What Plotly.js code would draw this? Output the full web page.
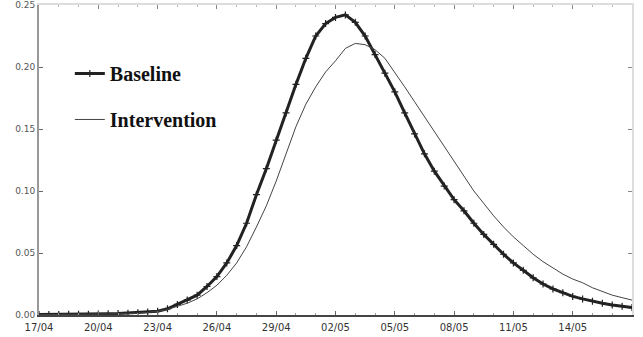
<!DOCTYPE html>
<html>
<head>
<meta charset="utf-8">
<script src="https://cdn.plot.ly/plotly-3.0.1.min.js"></script>
<style>html,body{margin:0;padding:0;background:#fff;}#chart{width:643px;height:337px;}</style>
</head>
<body>
<div id="chart"></div>
<script>
// Sampling: every half day starting 17/04/2009
var startDate = '2009-04-17';
var stepHours = 12;

var baselineName = 'Baseline';
var interventionName = 'Intervention';

var baseline = [
  0.0005, 0.0005, 0.0005, 0.0006, 0.0007, 0.0007, 0.0008, 0.0010, 0.0012, 0.0015,
  0.0018, 0.0024, 0.0030, 0.0050, 0.0085, 0.0120, 0.0160, 0.0230, 0.0310, 0.0420,
  0.0560, 0.0740, 0.0970, 0.1180, 0.1410, 0.1630, 0.1860, 0.2070, 0.2250, 0.2350,
  0.2400, 0.2420, 0.2360, 0.2250, 0.2100, 0.1950, 0.1800, 0.1630, 0.1460, 0.1300,
  0.1160, 0.1040, 0.0930, 0.0840, 0.0740, 0.0650, 0.0570, 0.0490, 0.0420, 0.0360,
  0.0300, 0.0250, 0.0210, 0.0180, 0.0150, 0.0130, 0.0110, 0.0095, 0.0080, 0.0070,
  0.0060
];

var intervention = [
  0.0003, 0.0003, 0.0004, 0.0004, 0.0005, 0.0005, 0.0006, 0.0007, 0.0009, 0.0011,
  0.0014, 0.0020, 0.0030, 0.0045, 0.0070, 0.0095, 0.0130, 0.0180, 0.0240, 0.0320,
  0.0420, 0.0550, 0.0710, 0.0880, 0.1080, 0.1300, 0.1520, 0.1700, 0.1840, 0.1960,
  0.2050, 0.2150, 0.2190, 0.2180, 0.2140, 0.2070, 0.1960, 0.1840, 0.1720, 0.1600,
  0.1480, 0.1360, 0.1240, 0.1120, 0.1000, 0.0900, 0.0800, 0.0710, 0.0630, 0.0560,
  0.0490, 0.0430, 0.0380, 0.0330, 0.0290, 0.0260, 0.0220, 0.0190, 0.0160, 0.0140,
  0.0120
];

var yTicks = [0, 0.05, 0.10, 0.15, 0.20, 0.25];
var yTickLabels = ['0.00', '0.05', '0.10', '0.15', '0.20', '0.25'];

var xRange = ['2009-04-17 00:00', '2009-05-17 00:00'];

var times = [];
var t0 = new Date(startDate + 'T00:00:00Z').getTime();
for (var i = 0; i < baseline.length; i++) {
  var d = new Date(t0 + i * stepHours * 3600000);
  times.push(d.toISOString().slice(0, 16).replace('T', ' '));
}

var traces = [
  {
    x: times, y: baseline, name: baselineName, type: 'scatter', mode: 'lines+markers',
    legendgroup: 'a',
    line: {color: '#222', width: 3},
    marker: {symbol: 'cross-thin', size: 5, color: '#222', line: {color: '#222', width: 1.2}}
  },
  {
    x: times, y: intervention, name: interventionName, type: 'scatter', mode: 'lines',
    legendgroup: 'b',
    line: {color: '#444', width: 1}
  },
  // invisible trace for mirrored top/right axes
  {x: xRange, y: [0, 0], xaxis: 'x2', yaxis: 'y2', mode: 'lines', showlegend: false,
   line: {width: 0}, hoverinfo: 'skip'}
];

var layout = {
  width: 643, height: 337,
  margin: {l: 39, r: 11, t: 5, b: 22},
  paper_bgcolor: '#fff', plot_bgcolor: '#fff',
  font: {family: 'DejaVu Sans, sans-serif', size: 9, color: '#444'},
  showlegend: true,
  legend: {
    x: 0.052, y: 0.842, xanchor: 'left', yanchor: 'top',
    bgcolor: 'rgba(0,0,0,0)',
    font: {family: 'Liberation Serif, Times New Roman, serif', size: 20, color: '#111', weight: 'bold'},
    tracegroupgap: 17,
    itemwidth: 30
  },
  xaxis: {
    type: 'date', range: xRange,
    tick0: '2009-04-17', dtick: 3 * 86400000,
    tickformat: '%d/%m',
    ticks: 'inside', ticklen: 4, tickcolor: '#666', tickwidth: 1,
    minor: {dtick: 86400000, ticks: 'inside', ticklen: 2, tickcolor: '#999'},
    showline: true, linecolor: '#444', linewidth: 2,
    showgrid: false, zeroline: false,
    tickfont: {size: 10, color: '#333', family: 'DejaVu Sans, sans-serif'},
    ticklabelstandoff: 2
  },
  yaxis: {
    range: [0, 0.25],
    tickvals: yTicks, ticktext: yTickLabels,
    ticks: 'inside', ticklen: 4, tickcolor: '#666',
    showline: true, linecolor: '#999', linewidth: 2,
    showgrid: false, zeroline: false,
    tickfont: {size: 9, color: '#555', family: 'DejaVu Sans, sans-serif'}
  },
  xaxis2: {
    type: 'date', range: xRange, overlaying: 'x', side: 'top',
    tick0: '2009-04-17', dtick: 3 * 86400000,
    ticks: 'inside', ticklen: 4, tickcolor: '#888',
    minor: {dtick: 86400000, ticks: 'inside', ticklen: 2, tickcolor: '#bbb'},
    showticklabels: false,
    showline: true, linecolor: '#ddd', linewidth: 2,
    showgrid: false, zeroline: false
  },
  yaxis2: {
    range: [0, 0.25], overlaying: 'y', side: 'right',
    tickvals: yTicks,
    ticks: 'inside', ticklen: 4, tickcolor: '#888',
    showticklabels: false,
    showline: true, linecolor: '#ddd', linewidth: 2,
    showgrid: false, zeroline: false
  }
};

Plotly.newPlot('chart', traces, layout, {staticPlot: true, displayModeBar: false});
</script>
</body>
</html>
